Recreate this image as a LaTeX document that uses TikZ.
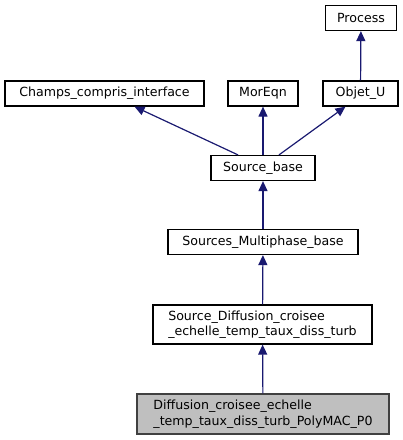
\documentclass[tikz,border=0pt]{standalone}
\usepackage{fontspec}
\setmainfont{DejaVu Sans}
\usepackage{xcolor}
\usetikzlibrary{positioning,arrows.meta,calc}
\definecolor{cazul}{HTML}{191970}
\definecolor{cgris}{HTML}{BFBFBF}
\definecolor{cborde}{HTML}{404040}
\tikzset{
  clase/.style={rectangle, draw=black, fill=white, line width=1.2pt,
    inner sep=2pt, minimum height=25pt, align=left,
    font=\fontsize{12.6}{15.5}\selectfont},
  claseg/.style={clase, draw=cborde, fill=cgris},
  hereda/.style={-{Triangle[length=10pt,width=9pt]}, line width=1.2pt, draw=cazul},
}
\begin{document}
\begin{tikzpicture}[x=1pt,y=-1pt]
  \useasboundingbox (0,0) rectangle (403,440);
  \node[clase, minimum width=71pt] (process) at (361,18) {Process};
  \node[clase, minimum width=199pt] (champs) at (104.5,93.5) {Champs\_compris\_interface};
  \node[clase, minimum width=70pt] (moreqn) at (263,93.5) {MorEqn};
  \node[clase, minimum width=75pt] (objetu) at (360.5,93.5) {Objet\_U};
  \node[clase, minimum width=104pt] (sbase) at (263,168) {Source\_base};
  \node[clase, minimum width=190pt] (smulti) at (263,242) {Sources\_Multiphase\_base};
  \node[clase, minimum width=219pt, minimum height=39pt] (sdiff) at (262.5,324.5)
    {Source\_Diffusion\_croisee\\\_echelle\_temp\_taux\_diss\_turb};
  \node[claseg, minimum width=252pt, minimum height=40pt] (dpoly) at (263,414)
    {Diffusion\_croisee\_echelle\\\_temp\_taux\_diss\_turb\_PolyMAC\_P0};
  \draw[hereda] (objetu)--(process);
  \draw[hereda] ([xshift=-25pt]sbase.north)--([xshift=30pt]champs.south);
  \draw[hereda] (sbase)--(moreqn);
  \draw[hereda] ([xshift=16pt]sbase.north)--([xshift=-15pt]objetu.south);
  \draw[hereda] (smulti)--(sbase); \draw[hereda] (sdiff)--(smulti);
  \draw[hereda] (dpoly)--(sdiff);
\end{tikzpicture}
\end{document}
